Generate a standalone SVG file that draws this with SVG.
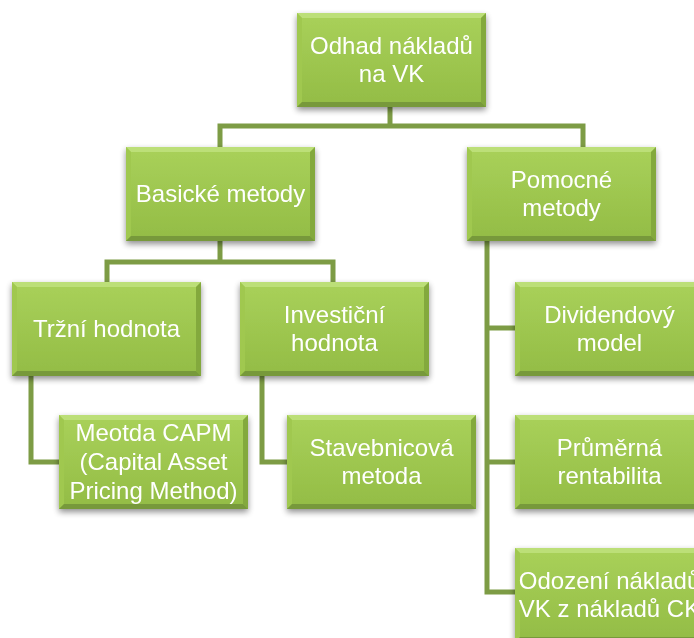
<svg xmlns="http://www.w3.org/2000/svg" width="694" height="638" viewBox="0 0 694 638">
  <style>
    .conn { fill: none; stroke: #7d9c45; stroke-width: 5; stroke-linejoin: miter; stroke-linecap: butt; }
    .label { font-family: "Liberation Sans", Arial, sans-serif; font-size: 24px; fill: #ffffff; text-anchor: middle; }
  </style>
  <defs>
    <linearGradient id="face" x1="0" y1="0" x2="0" y2="1">
      <stop offset="0" stop-color="#a9d15a"/>
      <stop offset="1" stop-color="#93bc45"/>
    </linearGradient>
    <filter id="shadow" x="-10%" y="-10%" width="120%" height="130%">
      <feGaussianBlur in="SourceAlpha" stdDeviation="3"/>
      <feOffset dx="0" dy="3" result="blur"/>
      <feComponentTransfer>
        <feFuncA type="linear" slope="0.45"/>
      </feComponentTransfer>
      <feMerge>
        <feMergeNode/>
        <feMergeNode in="SourceGraphic"/>
      </feMerge>
    </filter>
    <!-- bevelled green box, 189 x 94 -->
    <g id="box">
      <rect x="0" y="0" width="189" height="94" fill="url(#face)"/>
      <polygon points="0,0 189,0 184,5 5,5" fill="#bcdf78"/>
      <polygon points="0,0 5,5 5,89 0,94" fill="#a0c850"/>
      <polygon points="189,0 189,94 184,89 184,5" fill="#83a93c"/>
      <polygon points="0,94 5,89 184,89 189,94" fill="#77993a"/>
    </g>
  </defs>

  <rect width="694" height="638" fill="#ffffff"/>

  <g id="connectors">
    <path class="conn" d="M390,107 V126"/>
    <path class="conn" d="M220,147 V126 H583 V147"/>
    <path class="conn" d="M220,241 V262"/>
    <path class="conn" d="M107,282 V262 H333 V282"/>
    <path class="conn" d="M31,375 V462 H59"/>
    <path class="conn" d="M262,375 V462 H287"/>
    <path class="conn" d="M487,241 V592 H515"/>
    <path class="conn" d="M487,328 H515"/>
    <path class="conn" d="M487,462 H515"/>
  </g>

  <g id="node-root" filter="url(#shadow)">
    <use href="#box" x="297" y="13"/>
    <text class="label" x="391.5" y="54">Odhad nákladů</text>
    <text class="label" x="391.5" y="82">na VK</text>
  </g>

  <g id="node-basicke" filter="url(#shadow)">
    <use href="#box" x="126" y="147"/>
    <text class="label" x="220.5" y="202">Basické metody</text>
  </g>

  <g id="node-pomocne" filter="url(#shadow)">
    <use href="#box" x="467" y="147"/>
    <text class="label" x="561.5" y="188">Pomocné</text>
    <text class="label" x="561.5" y="216">metody</text>
  </g>

  <g id="node-trzni" filter="url(#shadow)">
    <use href="#box" x="12" y="282"/>
    <text class="label" x="106.5" y="337">Tržní hodnota</text>
  </g>

  <g id="node-investicni" filter="url(#shadow)">
    <use href="#box" x="240" y="282"/>
    <text class="label" x="334.5" y="323">Investiční</text>
    <text class="label" x="334.5" y="351">hodnota</text>
  </g>

  <g id="node-capm" filter="url(#shadow)">
    <use href="#box" x="59" y="415"/>
    <text class="label" x="153.5" y="441">Meotda CAPM</text>
    <text class="label" x="153.5" y="470">(Capital Asset</text>
    <text class="label" x="153.5" y="499">Pricing Method)</text>
  </g>

  <g id="node-stavebnicova" filter="url(#shadow)">
    <use href="#box" x="287" y="415"/>
    <text class="label" x="381.5" y="456">Stavebnicová</text>
    <text class="label" x="381.5" y="484">metoda</text>
  </g>

  <g id="node-dividendovy" filter="url(#shadow)">
    <use href="#box" x="515" y="282"/>
    <text class="label" x="609.5" y="323">Dividendový</text>
    <text class="label" x="609.5" y="351">model</text>
  </g>

  <g id="node-prumerna" filter="url(#shadow)">
    <use href="#box" x="515" y="415"/>
    <text class="label" x="609.5" y="456">Průměrná</text>
    <text class="label" x="609.5" y="484">rentabilita</text>
  </g>

  <g id="node-odozeni" filter="url(#shadow)">
    <use href="#box" x="515" y="548"/>
    <text class="label" x="609.5" y="589">Odození nákladů</text>
    <text class="label" x="609.5" y="617">VK z nákladů CK</text>
  </g>
</svg>
